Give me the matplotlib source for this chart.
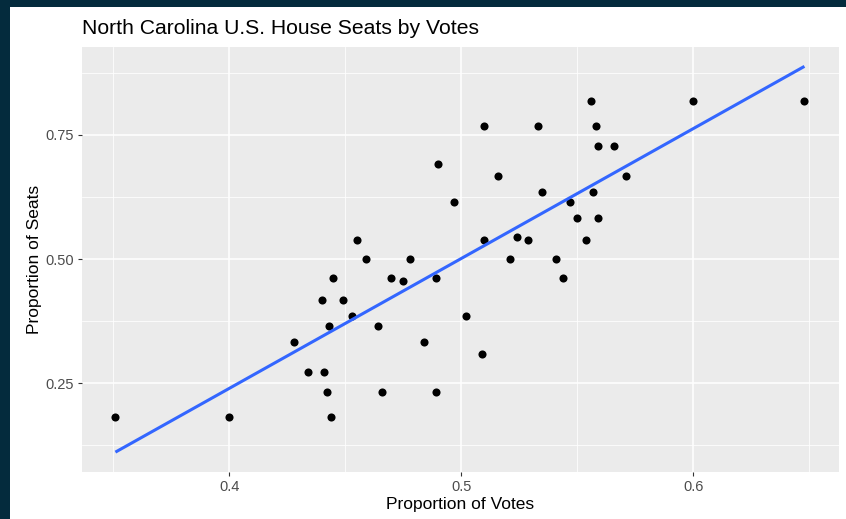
import numpy as np
import matplotlib
matplotlib.use("Agg")
import matplotlib.pyplot as plt
from matplotlib.patches import Rectangle

plt.rcParams["font.family"] = ["Liberation Sans", "DejaVu Sans"]

# Share of the statewide vote and share of House seats won, one point per election
votes = [0.351, 0.400, 0.428, 0.434, 0.440, 0.441, 0.442, 0.443, 0.445, 0.444,
         0.449, 0.453, 0.455, 0.459, 0.464, 0.466, 0.470, 0.475, 0.478, 0.484,
         0.489, 0.489, 0.490, 0.497, 0.502, 0.509, 0.510, 0.510, 0.516, 0.521,
         0.524, 0.529, 0.533, 0.535, 0.541, 0.544, 0.547, 0.550, 0.554, 0.556,
         0.557, 0.558, 0.559, 0.559, 0.566, 0.571, 0.600, 0.648]
seats = [0.182, 0.182, 0.333, 0.273, 0.417, 0.273, 0.231, 0.364, 0.462, 0.182,
         0.417, 0.385, 0.538, 0.500, 0.364, 0.231, 0.462, 0.455, 0.500, 0.333,
         0.462, 0.231, 0.692, 0.615, 0.385, 0.308, 0.769, 0.538, 0.667, 0.500,
         0.545, 0.538, 0.769, 0.636, 0.500, 0.462, 0.615, 0.583, 0.538, 0.818,
         0.636, 0.769, 0.727, 0.583, 0.727, 0.667, 0.818, 0.818]

x_ticks = [0.4, 0.5, 0.6]
x_tick_labels = ["0.4", "0.5", "0.6"]
y_ticks = [0.25, 0.50, 0.75]
y_tick_labels = ["0.25", "0.50", "0.75"]

W, H = 846, 519
fig = plt.figure(figsize=(W / 100, H / 100), dpi=100, facecolor="white")

# dark frame along the top and left edges
fig.patches.append(Rectangle((0, 0), 10 / W, 1, transform=fig.transFigure,
                             facecolor="#042b3d", edgecolor="none", zorder=-5))
fig.patches.append(Rectangle((0, 1 - 7 / H), 1, 7 / H, transform=fig.transFigure,
                             facecolor="#042b3d", edgecolor="none", zorder=-5))

left, right, top, bottom = 82, 839, 47, 472
ax = fig.add_axes([left / W, (H - bottom) / H, (right - left) / W, (bottom - top) / H])
ax.set_facecolor("#EBEBEB")
for s in ax.spines.values():
    s.set_visible(False)

ax.set_xlim(0.3366, 0.6629)
ax.set_ylim(0.0706, 0.9274)

ax.set_xticks(x_ticks)
ax.set_xticklabels(x_tick_labels)
ax.set_yticks(y_ticks)
ax.set_yticklabels(y_tick_labels)
ax.set_xticks([0.35, 0.45, 0.55, 0.65], minor=True)
ax.set_yticks([0.125, 0.375, 0.625, 0.875], minor=True)

ax.grid(which="major", color="white", linewidth=1.1)
ax.grid(which="minor", color="white", linewidth=0.55)
ax.set_axisbelow(True)

ax.tick_params(which="major", length=3, width=0.8, color="#333333",
               labelsize=10.5, labelcolor="#4D4D4D", pad=3)
ax.tick_params(which="minor", length=0)

ax.scatter(votes, seats, s=34, color="black", zorder=3, linewidths=0)

slope, intercept = np.polyfit(votes, seats, 1)
xs = np.array([min(votes), max(votes)])
ax.plot(xs, slope * xs + intercept, color="#3366FF", linewidth=2.2, zorder=4,
        solid_capstyle="butt")

ax.set_xlabel("Proportion of Votes", fontsize=12.5, color="black", labelpad=2)
ax.set_ylabel("Proportion of Seats", fontsize=12.5, color="black", labelpad=2)

fig.text(left / W, 1 - 34 / H, "North Carolina U.S. House Seats by Votes",
         fontsize=15.2, color="black", ha="left", va="baseline")

fig.savefig("out.png", dpi=100, facecolor="white")
